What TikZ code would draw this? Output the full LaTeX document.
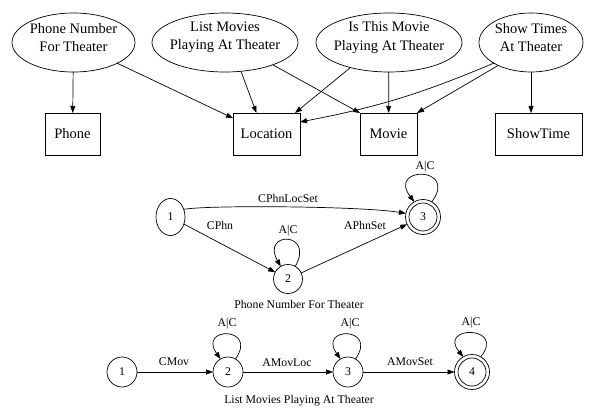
\documentclass[tikz,border=0pt]{standalone}
\usepackage{fontspec}
\setmainfont{Liberation Serif}
\usetikzlibrary{arrows.meta,shapes.geometric,calc}
\begin{document}
\begin{tikzpicture}[x=1pt,y=1pt,
  line width=0.7pt,
  arr/.style={-{Triangle[length=7pt,width=5pt]}},
  ell/.style={draw, ellipse, inner sep=0pt, outer sep=0pt},
  big/.style={font=\fontsize{14.5}{18.5}\selectfont, align=center, inner sep=0pt},
  box/.style={draw, rectangle, inner sep=0pt, outer sep=0pt, minimum height=42pt, font=\fontsize{14.5}{17}\selectfont},
  st/.style={draw, circle, inner sep=0pt, outer sep=0pt, minimum size=29pt, font=\fontsize{11.8}{14}\selectfont},
  lab/.style={font=\fontsize{11.8}{14}\selectfont, inner sep=0pt}
]
\useasboundingbox (0,0) rectangle (591,413);

% top row: ellipses
\node[ell, minimum width=123pt, minimum height=59pt] (E1) at (73.5,370.5) {};
\node[big] (E1t) at (73.5,375.5) {Phone Number\\For Theater};
\node[ell, minimum width=146pt, minimum height=59pt] (E2) at (225,370.5) {};
\node[big] (E2t) at (225,375.5) {List Movies\\Playing At Theater};
\node[ell, minimum width=146pt, minimum height=59pt] (E3) at (389,370.5) {};
\node[big] (E3t) at (389,375.5) {Is This Movie\\Playing At Theater};
\node[ell, minimum width=104pt, minimum height=59pt] (E4) at (531,370.5) {};
\node[big] (E4t) at (531,375.5) {Show Times\\At Theater};

% boxes
\node[box, minimum width=55pt] (Phone) at (72.5,279) {Phone};
\node[box, minimum width=67pt] (Loc) at (266.5,279) {Location};
\node[box, minimum width=57pt] (Movie) at (388.5,279) {Movie};
\node[box, minimum width=87pt] (ST) at (538.5,279) {ShowTime};

% top edges
\draw[arr] (E1) -- (Phone);
\draw[arr] (E1) -- (Loc);
\draw[arr] (E2.-61) -- ([xshift=-10pt]Loc.north);
\draw[arr] (E2.-25) -- (Movie.north west);
\draw[arr] (E3.213) -- ([xshift=-5pt]Loc.north east);
\draw[arr] (E3) -- (Movie);
\draw[arr] (E4.209) to[bend left=6] ([yshift=12pt]Loc.east);
\draw[arr] (E4.215) -- (Movie.north east);
\draw[arr] (E4.south) -- (E4.south |- ST.north);

% FSM 1
\node[st, ellipse, minimum width=29pt, minimum height=37pt] (A1) at (170.5,196) {1};
\node[st] (A2) at (288,134) {2};
\node[st, minimum size=35pt] (A3) at (423,196) {3};
\draw (A3.center) circle (14pt);
\draw[arr] (A1.30) .. controls (205,208) and (360,207) .. (A3.168);
\draw[arr] (A1) -- (A2);
\draw[arr] (A2) -- (A3);
\draw[arr] (A2.60) .. controls +(60.5:40.6) and +(119.5:40.6) .. (A2.120);
\draw[arr] (A3.60) .. controls +(53:45) and +(127:45) .. (A3.120);
\node[lab] (lA) at (288,215) {CPhnLocSet};
\node[lab] (lB) at (220,188) {CPhn};
\node[lab] (lC) at (365,188) {APhnSet};
\node[lab] (lD) at (288,182) {A|C};
\node[lab] (lE) at (425,246) {A|C};
\node[lab] (t1) at (299,109) {Phone Number For Theater};

% FSM 2
\node[st, minimum size=30pt] (B1) at (122,41) {1};
\node[st, minimum size=30pt] (B2) at (228,41) {2};
\node[st, minimum size=30pt] (B3) at (348,41) {3};
\node[st, minimum size=35pt] (B4) at (472,41) {4};
\draw (B4.center) circle (14pt);
\draw[arr] (B1) -- (B2);
\draw[arr] (B2) -- (B3);
\draw[arr] (B3) -- (B4);
\draw[arr] (B2.60) .. controls +(55:40) and +(125:40) .. (B2.120);
\draw[arr] (B3.60) .. controls +(55:40) and +(125:40) .. (B3.120);
\draw[arr] (B4.60) .. controls +(51:40.7) and +(129:40.7) .. (B4.120);
\node[lab] (lF) at (174,51) {CMov};
\node[lab] (lG) at (287,50) {AMovLoc};
\node[lab] (lH) at (410,51) {AMovSet};
\node[lab] (lI) at (227,89) {A|C};
\node[lab] (lJ) at (350,89) {A|C};
\node[lab] (lK) at (471,90) {A|C};
\node[lab] (t2) at (299,12) {List Movies Playing At Theater};
\end{tikzpicture}
\end{document}
